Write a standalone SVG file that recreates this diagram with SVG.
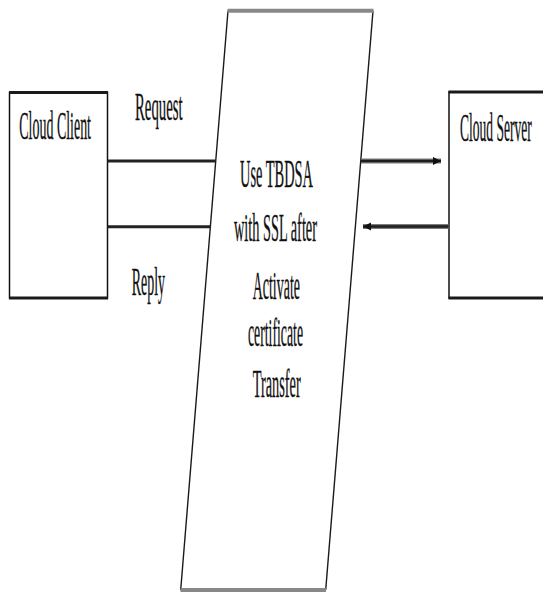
<svg xmlns="http://www.w3.org/2000/svg" width="543" height="593" viewBox="0 0 543 593">
  <style>
    .box { fill: #ffffff; stroke: #111111; stroke-width: 1.5; }
    .edge { stroke: #1a1a1a; stroke-width: 3; fill: none; }
    .bar { stroke: #888888; stroke-width: 4; fill: none; }
    .side { stroke: #1a1a1a; stroke-width: 1.4; fill: none; }
    .link { stroke: #222222; stroke-width: 3; fill: none; }
    .flow { stroke: #7a7a7a; stroke-width: 5; fill: none; }
    .flowcore { stroke: #1e1e1e; stroke-width: 2.4; fill: none; }
    text { font-family: "Liberation Serif", "Times New Roman", serif; font-size: 40px; fill: #111111; stroke: #111111; stroke-width: 0.35; }
  </style>
  <defs>
    <marker id="head" viewBox="0 0 10 10" refX="10" refY="5" markerWidth="8" markerHeight="11" markerUnits="userSpaceOnUse" orient="auto">
      <path d="M0,0 L10,5 L0,10 z" fill="#111111"/>
    </marker>
  </defs>
  <rect width="543" height="593" fill="#ffffff"/>

  <!-- client node -->
  <g id="cloud-client">
    <rect class="box" x="9.5" y="92.5" width="98" height="205.5"/>
    <line class="edge" x1="9" y1="92.5" x2="108" y2="92.5"/>
    <line class="edge" x1="9" y1="298" x2="108" y2="298"/>
    <text x="19.3" y="139.3" textLength="71.7" lengthAdjust="spacingAndGlyphs">Cloud Client</text>
  </g>

  <!-- server node, running off the right edge -->
  <g id="cloud-server">
    <rect class="box" x="449" y="92" width="120" height="206"/>
    <line class="edge" x1="448.5" y1="92" x2="543" y2="92"/>
    <line class="edge" x1="448.5" y1="298" x2="543" y2="298"/>
    <text x="460" y="141" textLength="71.7" lengthAdjust="spacingAndGlyphs">Cloud Server</text>
  </g>

  <!-- secure channel (slanted) -->
  <g id="secure-channel">
    <polygon points="228,10.7 373,10.7 325.7,590 180.7,590" fill="#ffffff" stroke="none"/>
    <line class="side" x1="228" y1="10.7" x2="180.7" y2="590"/>
    <line class="side" x1="373" y1="10.7" x2="325.7" y2="590"/>
    <line class="bar" x1="227.5" y1="10.7" x2="373.5" y2="10.7"/>
    <line class="bar" x1="180.5" y1="590" x2="326" y2="590" stroke-width="3"/>
    <text x="240" y="187.3" textLength="73" lengthAdjust="spacingAndGlyphs">Use TBDSA</text>
    <text x="234" y="241" textLength="83" lengthAdjust="spacingAndGlyphs">with SSL after</text>
    <text x="252.7" y="299" textLength="47.3" lengthAdjust="spacingAndGlyphs">Activate</text>
    <text x="248" y="346" textLength="55" lengthAdjust="spacingAndGlyphs">certificate</text>
    <text x="252.7" y="396.7" textLength="48" lengthAdjust="spacingAndGlyphs">Transfer</text>
  </g>

  <!-- connectors -->
  <g id="connectors">
    <line class="link" x1="107.5" y1="161" x2="215.7" y2="161"/>
    <line class="link" x1="107.5" y1="226.7" x2="210.4" y2="226.7"/>
    <line class="flow" x1="361" y1="161" x2="441" y2="161"/>
    <line class="flowcore" x1="361" y1="161" x2="441" y2="161" marker-end="url(#head)"/>
    <line class="flow" x1="448.5" y1="226.5" x2="363" y2="226.5"/>
    <line class="flowcore" x1="448.5" y1="226.5" x2="363" y2="226.5" marker-end="url(#head)"/>
  </g>

  <!-- connector labels -->
  <g id="labels">
    <text x="135" y="120" textLength="47.7" lengthAdjust="spacingAndGlyphs">Request</text>
    <text x="131.7" y="295" textLength="33.3" lengthAdjust="spacingAndGlyphs">Reply</text>
  </g>
</svg>
